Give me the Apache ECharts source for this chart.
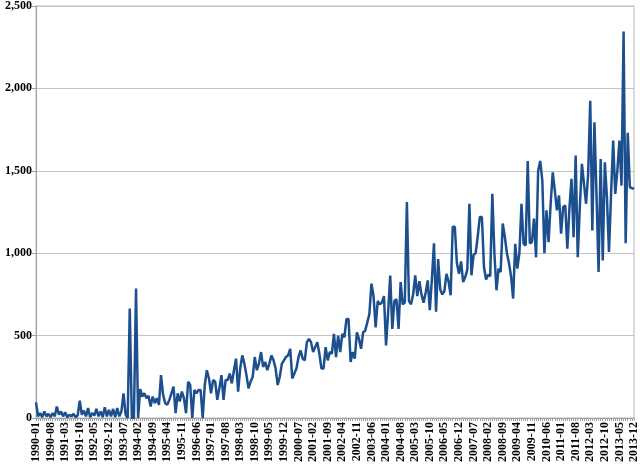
<!DOCTYPE html>
<html>
<head>
<meta charset="utf-8">
<script src="https://cdn.jsdelivr.net/npm/echarts@6/dist/echarts.min.js"></script>
<style>
  html, body { margin: 0; padding: 0; background: #fff; }
  #chart { width: 640px; height: 467px; }
</style>
</head>
<body>
<div id="chart"></div>
<script>
// monthly values, one row per year (Jan..Dec), 1990-2013
const values1990s = [
  95, 10, 30, 5, 40, 10, 25, 5, 30, 10, 70, 20,
  40, 10, 35, 5, 20, 10, 25, 5, 15, 105, 20, 45,
  10, 60, 5, 30, 15, 55, 10, 40, 5, 65, 10, 50,
  10, 55, 5, 60, 10, 40, 150, 20, 0, 665, 0, 0,
  785, 0, 175, 130, 150, 120, 135, 70, 130, 90, 120, 80,
  260, 140, 90, 80, 110, 150, 190, 30, 150, 100, 160, 120,
  30, 220, 200, 0, 170, 150, 170, 170, 0, 200, 290, 240,
  150, 230, 220, 110, 180, 260, 110, 230, 230, 270, 210, 290,
  360, 160, 300, 380, 330, 260, 180, 220, 250, 370, 290, 330,
  400, 310, 340, 290, 330, 380, 350, 300, 200, 250, 330, 350
];
const values2000s = [
  370, 380, 420, 240, 270, 300, 370, 410, 360, 350, 460, 480,
  460, 400, 430, 460, 390, 300, 300, 430, 350, 400, 390, 510,
  370, 500, 400, 510, 490, 600, 600, 340, 400, 360, 520, 480,
  420, 520, 530, 580, 630, 815, 740, 550, 710, 690, 700, 740,
  440, 640, 865, 540, 710, 720, 540, 825, 690, 700, 1310, 710,
  690, 750, 865, 740, 830, 750, 700, 760, 835, 655, 840, 1060,
  645, 965, 780, 750, 770, 875, 830, 745, 1160, 1160, 940, 875,
  950, 825, 855, 900, 1300, 866, 990, 1000, 1100, 1220, 1220, 916,
  840, 870, 860, 1360, 1000, 775, 906, 886, 1180, 1100, 1000, 940,
  860, 725, 1057, 906, 1000, 1300, 1057, 1047, 1560, 1060, 1067, 1210
];
const values2010s = [
  975, 1500, 1560, 1440, 1000, 1260, 1067, 1300, 1490, 1380, 1260, 1350,
  1118, 1280, 1290, 1027, 1270, 1451, 1097, 1592, 976, 1280, 1542, 1420,
  1300, 1480, 1925, 1138, 1794, 1360, 886, 1572, 956, 1552, 1340, 1007,
  1360, 1683, 1360, 1500, 1683, 1410, 2345, 1060, 1730, 1400, 1395, 1390
];
const values = values1990s.concat(values2000s, values2010s);

const firstYear = 1990;
const lastYear = 2013;
const months = [];
for (let y = firstYear; y <= lastYear; y++) {
  for (let m = 1; m <= 12; m++) {
    months.push(y + '-' + (m < 10 ? '0' + m : m));
  }
}

const yTicks = [0, 500, 1000, 1500, 2000, 2500];

const chart = echarts.init(document.getElementById('chart'));

const option = {
  animation: false,
  grid: {
    left: 36,
    right: 4,
    top: 5,
    bottom: 49,
    show: true,
    borderColor: '#b8b8b8',
    borderWidth: 1
  },
  xAxis: {
    type: 'category',
    data: months,
    boundaryGap: false,
    axisLine: { lineStyle: { color: '#a0a0a0', width: 1 } },
    axisTick: { interval: 0, length: 3, lineStyle: { color: '#a0a0a0' } },
    axisLabel: {
      interval: 6,
      rotate: 90,
      margin: 4,
      color: '#000',
      fontFamily: 'Liberation Serif',
      fontWeight: 'bold',
      fontSize: 12
    },
    splitLine: { show: false }
  },
  yAxis: {
    type: 'value',
    min: yTicks[0],
    max: yTicks[yTicks.length - 1],
    interval: 500,
    axisLine: { show: true, lineStyle: { color: '#a0a0a0' } },
    axisTick: { show: true, length: 4, lineStyle: { color: '#a0a0a0' } },
    axisLabel: {
      margin: 4,
      color: '#000',
      fontFamily: 'Liberation Serif',
      fontWeight: 'bold',
      fontSize: 12,
      formatter: v => v.toLocaleString('en-US')
    },
    splitLine: { lineStyle: { color: '#c4c4c4', width: 1 } }
  },
  series: [{
    type: 'line',
    data: values,
    symbol: 'none',
    lineStyle: { color: '#1c4f8d', width: 2.5 },
    emphasis: { disabled: true }
  }]
};

chart.setOption(option);
</script>
</body>
</html>
